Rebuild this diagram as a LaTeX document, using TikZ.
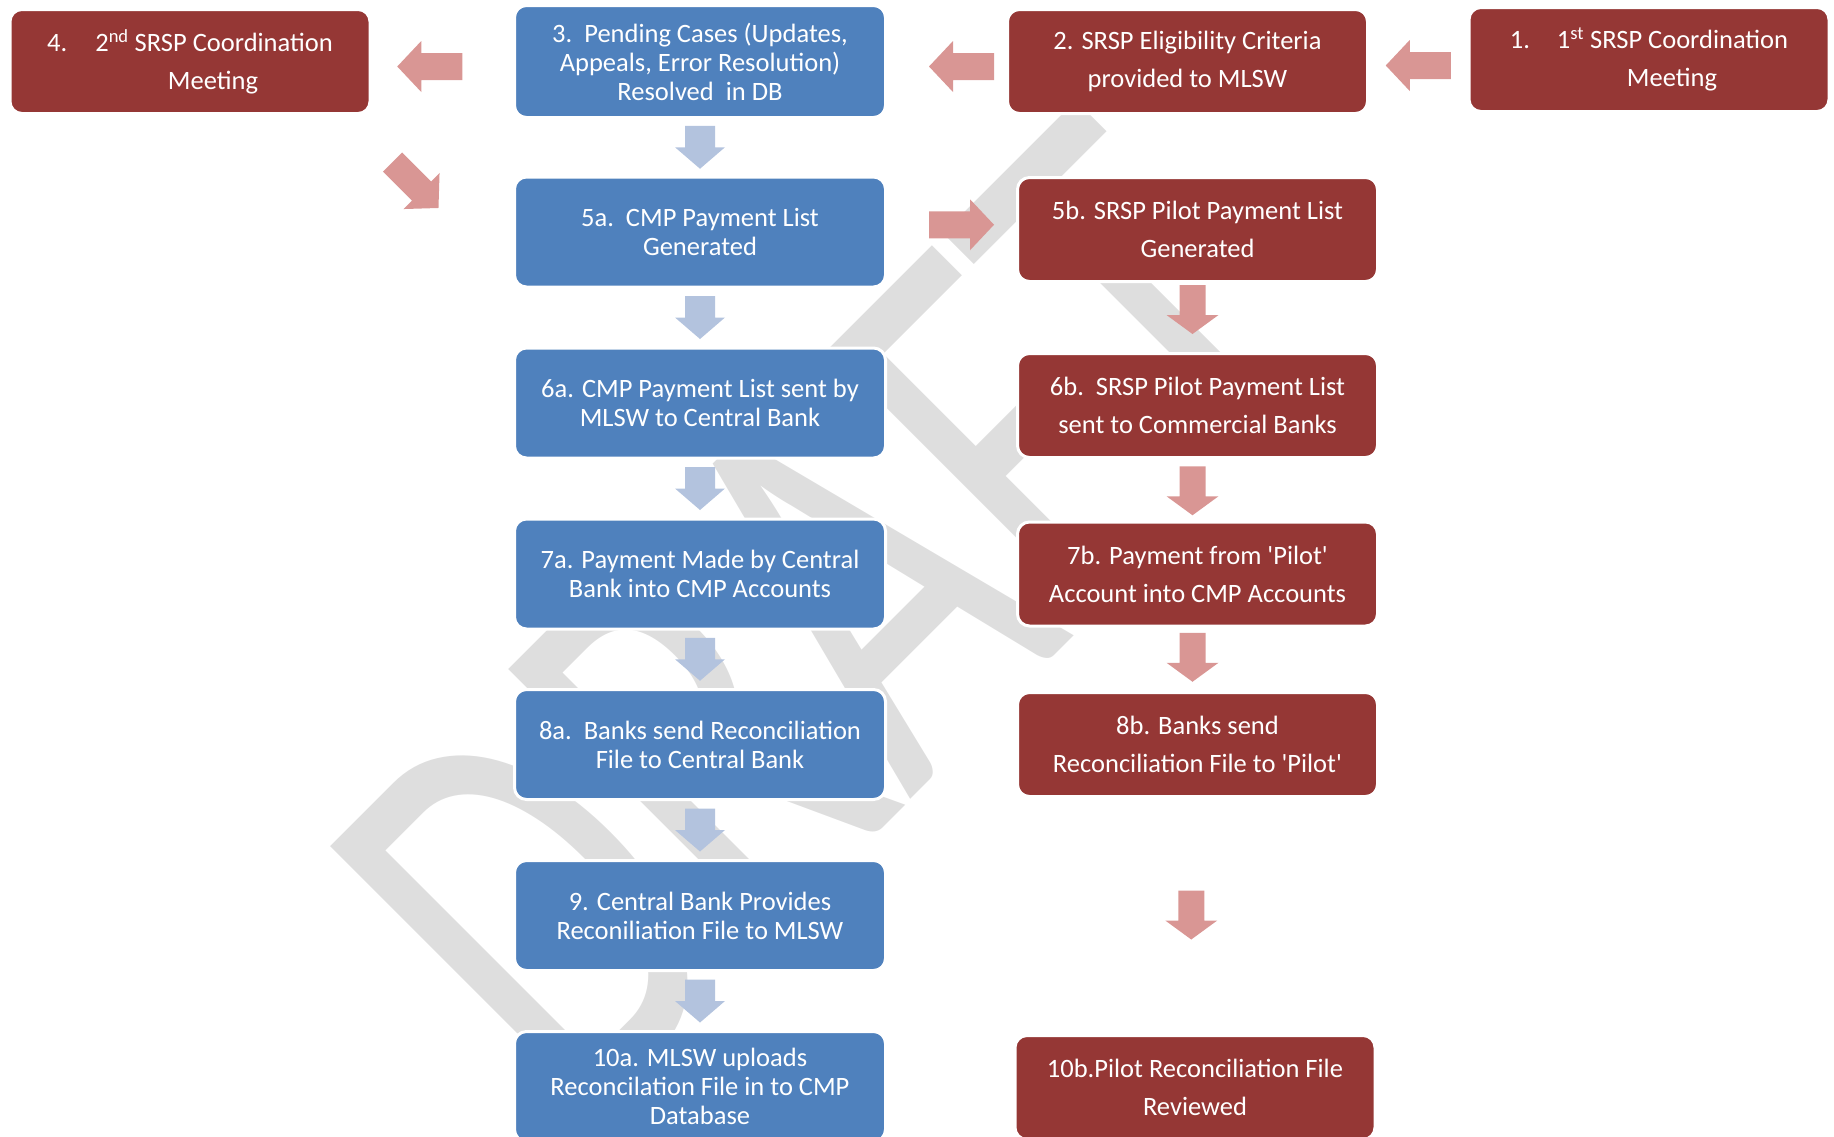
\documentclass[tikz,border=0pt]{standalone}
\usepackage{fontspec}
\setmainfont{Carlito}
\usetikzlibrary{calc}

\definecolor{boxblue}{HTML}{4F81BD}
\definecolor{boxred}{HTML}{953735}
\definecolor{arrowblue}{HTML}{B3C3DE}
\definecolor{arrowred}{HTML}{D99694}
\definecolor{wmgray}{HTML}{DEDEDE}

\begin{document}
\begin{tikzpicture}[x=1pt, y=-1pt,
	bluebox/.style={rectangle, rounded corners=12pt, fill=boxblue, draw=white, line width=3pt, text=white,
		minimum width=371pt, minimum height=110pt, inner sep=0pt, align=center, font=\fontsize{26.5}{29}\selectfont},
	redbox/.style={bluebox, fill=boxred, minimum width=360pt, minimum height=104pt, font=\fontsize{26.5}{38}\selectfont},
	bluedown/.pic={\fill[arrowblue] (-15,-21.5) -- (15,-21.5) -- (15,0) -- (25,0) -- (0,21.5) -- (-25,0) -- (-15,0) -- cycle;},
	reddown/.pic={\fill[arrowred] (-13,-24.5) -- (13,-24.5) -- (13,5.5) -- (26,5.5) -- (0,24.5) -- (-26,5.5) -- (-13,5.5) -- cycle;},
	redright/.pic={\fill[arrowred] (-32.5,-13.5) -- (8.5,-13.5) -- (8.5,-25.5) -- (32.5,0) -- (8.5,25.5) -- (8.5,13.5) -- (-32.5,13.5) -- cycle;}]
	\clip (0,0) rectangle (1834,1136);
	
	% watermark
	\node[text=wmgray, font=\fontsize{405}{405}\selectfont, rotate=45, yscale=1.45] (wm) at (829,615) {DRAFT};
	
	% top row
	\node[redbox] (n4) at (190,61.5) {4.\hspace{28pt}2\textsuperscript{nd} SRSP Coordination\\\hspace*{46pt}Meeting};
	\node[bluebox, minimum height=112pt] (n3) at (700,61.5) {3.\ \ Pending Cases (Updates,\\Appeals, Error Resolution)\\Resolved\ \ in DB};
	\node[redbox] (n2) at (1187.5,61.5) {2. SRSP Eligibility Criteria\\provided to MLSW};
	\node[redbox] (n1) at (1649,59.5) {1.\hspace{27pt}1\textsuperscript{st} SRSP Coordination\\\hspace*{46pt}Meeting};
	
	% CMP column
	\node[bluebox] (n5a) at (700,232) {5a.\ \ CMP Payment List\\Generated};
	\node[bluebox] (n6a) at (700,403) {6a. CMP Payment List sent by\\MLSW to Central Bank};
	\node[bluebox] (n7a) at (700,574) {7a. Payment Made by Central\\Bank into CMP Accounts};
	\node[bluebox] (n8a) at (700,744.5) {8a.\ \ Banks send Reconciliation\\File to Central Bank};
	\node[bluebox] (n9) at (700,915.5) {9. Central Bank Provides\\Reconiliation File to MLSW};
	\node[bluebox] (n10a) at (700,1086.5) {10a. MLSW uploads\\Reconcilation File in to CMP\\Database};
	
	% pilot column
	\node[redbox] (n5b) at (1197.5,229.5) {5b. SRSP Pilot Payment List\\Generated};
	\node[redbox] (n6b) at (1197.5,405.5) {6b.\ \ SRSP Pilot Payment List\\sent to Commercial Banks};
	\node[redbox] (n7b) at (1197.5,574) {7b. Payment from \textquotesingle Pilot\textquotesingle\\Account into CMP Accounts};
	\node[redbox] (n8b) at (1197.5,744.5) {8b. Banks send\\Reconciliation File to \textquotesingle Pilot\textquotesingle};
	\node[redbox] (n10b) at (1195,1087.5) {10b.Pilot Reconciliation File\\Reviewed};
	
	% block arrows
	\pic[rotate=180] at ($(n1.west)!.5!(n2.east)+(0,5)$) {redright};
	\pic[rotate=180] at ($(n2.west)!.5!(n3.east)+(15,5)$) {redright};
	\pic[rotate=180] at ($(n3.west)!.5!(n4.east)+(-12.5,5)$) {redright};
	\pic[rotate=-45] at ($(n4.south east)+(44,70)$) {redright};
	\pic at ($(n5a.east)!.5!(n5b.west)+(10,-6)$) {redright};
	
	\pic at ($(n3.south)!.5!(n5a.north)$) {bluedown};
	\pic at ($(n5a.south)!.5!(n6a.north)$) {bluedown};
	\pic at ($(n6a.south)!.5!(n7a.north)$) {bluedown};
	\pic at ($(n7a.south)!.5!(n8a.north)$) {bluedown};
	\pic at ($(n8a.south)!.5!(n9.north)$) {bluedown};
	\pic at ($(n9.south)!.5!(n10a.north)$) {bluedown};
	
	\pic at ($(n5b.south)!.5!(n6b.north)+(-5,-8)$) {reddown};
	\pic at ($(n6b.south)!.5!(n7b.north)+(-5,1)$) {reddown};
	\pic at ($(n7b.south)!.5!(n8b.north)+(-5,-2)$) {reddown};
	\pic at ($(n8b.south)!.5!(n10b.north)+(-5,-1)$) {reddown};
\end{tikzpicture}
\end{document}
